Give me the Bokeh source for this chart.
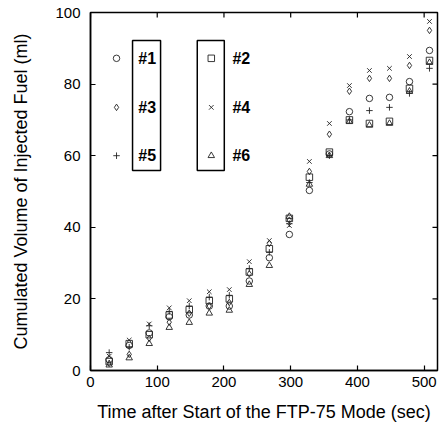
from bokeh.plotting import figure
from bokeh.models import Range1d, FixedTicker, ColumnDataSource
from bokeh.embed import file_html
from bokeh.resources import INLINE
from bokeh.core.properties import value

# ---- data ----
time_s = [28, 58, 88, 118, 148, 178, 208, 238, 268, 298, 328, 358, 388, 418, 448, 478, 508]
fuel_1 = [3.0, 7.0, 10.5, 15.0, 15.5, 18.0, 18.0, 25.0, 31.5, 38.0, 50.3, 60.5, 72.3, 76.0, 76.3, 80.7, 89.4]
fuel_2 = [2.5, 7.5, 10.0, 15.5, 17.0, 19.5, 20.0, 27.5, 34.0, 42.5, 54.0, 61.0, 70.0, 69.0, 69.6, 78.8, 86.6]
fuel_3 = [2.0, 4.5, 9.0, 13.5, 16.0, 18.0, 19.0, 27.0, 35.5, 42.0, 55.6, 66.0, 78.0, 81.6, 81.6, 85.2, 95.0]
fuel_4 = [4.0, 8.5, 13.0, 17.5, 19.5, 22.0, 22.6, 30.4, 36.3, 40.5, 58.4, 69.0, 79.6, 83.8, 84.4, 87.7, 97.5]
fuel_5 = [5.0, 6.5, 12.5, 16.5, 18.0, 20.5, 21.0, 28.5, 33.0, 41.0, 52.5, 60.0, 70.0, 72.6, 73.5, 77.4, 84.4]
fuel_6 = [1.5, 3.5, 7.5, 12.0, 13.4, 16.0, 16.8, 24.0, 29.3, 43.0, 52.0, 60.0, 69.5, 68.5, 69.0, 78.0, 86.0]

series_names = ["#1", "#2", "#3", "#4", "#5", "#6"]
series_markers = ["circle", "square", "diamond", "x", "cross", "triangle"]
series_values = [fuel_1, fuel_2, fuel_3, fuel_4, fuel_5, fuel_6]

x_ticks = [0, 100, 200, 300, 400, 500]
y_ticks = [0, 20, 40, 60, 80, 100]

FONT = "Liberation Sans"
X_MAX, Y_MAX = 520, 100
FW, FH = 347, 358

p = figure(frame_width=FW, frame_height=FH,
           min_border_left=90, min_border_right=2, min_border_top=12, min_border_bottom=48,
           x_range=Range1d(0, X_MAX), y_range=Range1d(0, Y_MAX),
           output_backend="svg", toolbar_location=None, background_fill_color="white",
           border_fill_color="white")
p.grid.visible = False
p.outline_line_color = "black"
p.outline_line_width = 1.5

for ax in p.xaxis:
    ax.ticker = FixedTicker(ticks=x_ticks)
    ax.axis_label = "Time after Start of the FTP-75 Mode (sec)"
    ax.major_label_standoff = 6
    ax.axis_label_standoff = 12
for ax in p.yaxis:
    ax.ticker = FixedTicker(ticks=y_ticks)
    ax.axis_label = "Cumulated Volume of Injected Fuel (ml)"
    ax.major_label_standoff = 10
    ax.axis_label_standoff = 21

for ax in list(p.xaxis) + list(p.yaxis):
    ax.major_tick_in = 5
    ax.major_tick_out = 0
    ax.minor_tick_in = 0
    ax.minor_tick_out = 0
    ax.axis_line_width = 1.5
    ax.major_tick_line_width = 1.2
    ax.major_label_text_font = FONT
    ax.major_label_text_font_size = "15px"
    ax.major_label_text_color = "black"
    ax.axis_label_text_font = FONT
    ax.axis_label_text_font_size = "18px"
    ax.axis_label_text_font_style = "normal"
    ax.axis_label_text_color = "black"

# mirrored inward ticks on the top and right edges of the frame (5 px long)
tx = 5 * X_MAX / FW
ty = 5 * Y_MAX / FH
p.segment(x0=x_ticks, x1=x_ticks, y0=[Y_MAX] * len(x_ticks), y1=[Y_MAX - ty] * len(x_ticks),
          line_color="black", line_width=1.2)
p.segment(x0=[X_MAX] * len(y_ticks), x1=[X_MAX - tx] * len(y_ticks), y0=y_ticks, y1=y_ticks,
          line_color="black", line_width=1.2)

for name, marker, vals in zip(series_names, series_markers, series_values):
    src = ColumnDataSource(dict(x=time_s, y=vals))
    p.scatter("x", "y", source=src, marker=marker, size=6.5,
              fill_color=None, line_color="#222222", line_width=0.9)

# ---- key (two boxed columns) ----
key_x_sym = [39, 181]
key_x_txt = [85, 226]
key_rows = [87.2, 73.5, 60.0]
for col in range(2):
    for row in range(3):
        i = row * 2 + col
        p.scatter([key_x_sym[col]], [key_rows[row]], marker=series_markers[i], size=6.5,
                  fill_color=None, line_color="#222222", line_width=0.9)
        p.text([key_x_txt[col]], [key_rows[row]], text=[series_names[i]],
               text_font=value(FONT), text_font_style="bold", text_font_size="16px",
               text_align="center", text_baseline="middle", text_color="black")
p.quad(left=[63, 160], right=[105, 200.5], bottom=[55.9, 55.9], top=[92.2, 92.2],
       fill_color=None, line_color="black", line_width=1.5)

open("out.html", "w").write(file_html(p, INLINE))
